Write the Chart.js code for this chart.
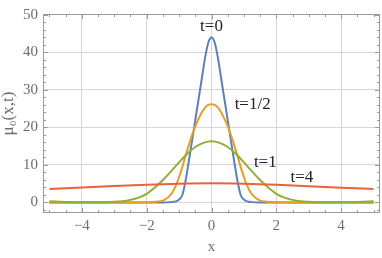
<!DOCTYPE html>
<html>
<head>
<meta charset="utf-8">
<script src="https://cdn.jsdelivr.net/npm/chart.js@4.4.0/dist/chart.umd.min.js"></script>
<style>
  html, body { margin: 0; padding: 0; background: #fff; }
  #wrap { width: 382px; height: 258px; }
</style>
</head>
<body>
<div id="wrap"><canvas id="mu-chart"></canvas></div>
<script>
// values

// t=0
var blueX = [-5, -4, -3, -2, -1.5, -1.25, -1.1, -1.0, -0.9, -0.8, -0.7, -0.6, -0.5, -0.4, -0.3, -0.2, -0.1, 0,
  0.1, 0.2, 0.3, 0.4, 0.5, 0.6, 0.7, 0.8, 0.9, 1.0, 1.1, 1.25, 1.5, 2, 3, 4, 5];
var blueY = [0, 0, 0, 0, 0, 0.1, 0.3, 0.8, 2.0, 5.8, 11, 16.5, 22, 27.5, 33, 38.5, 42.6, 44,
  42.6, 38.5, 33, 27.5, 22, 16.5, 11, 5.8, 2.0, 0.8, 0.3, 0.1, 0, 0, 0, 0, 0];

// t=1/2
var orangeX = [-5, -4, -3, -2.5, -2, -1.7, -1.5, -1.4, -1.3, -1.2, -1.1, -1.0, -0.9, -0.8, -0.7, -0.6, -0.5, -0.4, -0.3, -0.2, -0.1, 0,
  0.1, 0.2, 0.3, 0.4, 0.5, 0.6, 0.7, 0.8, 0.9, 1.0, 1.1, 1.2, 1.3, 1.4, 1.5, 1.7, 2, 2.5, 3, 4, 5];
var orangeY = [0, 0, 0, 0.02, 0.05, 0.2, 0.5, 1.0, 1.7, 2.8, 4.5, 6.8, 9.5, 12.5, 15.3, 18, 20.3, 22.3, 24, 25.3, 26, 26.2,
  26, 25.3, 24, 22.3, 20.3, 18, 15.3, 12.5, 9.5, 6.8, 4.5, 2.8, 1.7, 1.0, 0.5, 0.2, 0.05, 0.02, 0, 0, 0];

// t=1
var greenX = [-5, -4.5, -4, -3.5, -3, -2.75, -2.5, -2.25, -2, -1.75, -1.5, -1.25, -1, -0.75, -0.5, -0.25, 0,
  0.25, 0.5, 0.75, 1, 1.25, 1.5, 1.75, 2, 2.25, 2.5, 2.75, 3, 3.5, 4, 4.5, 5];
var greenY = [0.3, 0.15, 0.05, 0.05, 0.2, 0.35, 0.7, 1.3, 2.3, 4, 6, 8.3, 10.7, 13, 14.8, 15.9, 16.3,
  15.9, 14.8, 13, 10.7, 8.3, 6, 4, 2.3, 1.3, 0.7, 0.35, 0.2, 0.05, 0.05, 0.15, 0.3];

// t=4
var redX = [-5, -4, -3, -2, -1, 0, 1, 2, 3, 4, 5];
var redY = [3.6, 4.0, 4.4, 4.75, 5.0, 5.1, 5.0, 4.75, 4.35, 3.95, 3.6];

var xTicks = [-4, -2, 0, 2, 4];
var yTicks = [0, 10, 20, 30, 40, 50];

var curveLabels = [
  { text: "t=0", x: 0, y: 46.9 },
  { text: "t=1/2", x: 1.27, y: 26.0 },
  { text: "t=1", x: 1.66, y: 10.7 },
  { text: "t=4", x: 2.79, y: 6.6 }
];

function pts(xs, ys) {
  return xs.map(function(x, i) { return { x: x, y: ys[i] }; });
}

function fmt(v) {
  return v < 0 ? "\u2212" + Math.abs(v) : String(v);
}

var serif = "'Liberation Serif', 'DejaVu Serif', serif";
var axisGray = "#6e6e6e";

// Mathematica style frame: box all round with inward ticks
var frameTicks = {
  id: "frameTicks",
  beforeDatasetsDraw: function(chart) {
    var ctx = chart.ctx, a = chart.chartArea;
    var xs = chart.scales.x, ys = chart.scales.y;
    ctx.save();
    ctx.strokeStyle = "#9a9a9a";
    ctx.lineWidth = 1;
    ctx.strokeRect(a.left + 0.5, a.top + 0.5, a.right - a.left - 1, a.bottom - a.top - 1);
    ctx.beginPath();
    var v, p, len;
    for (v = -5; v <= 5; v += 0.5) {
      len = xTicks.indexOf(v) >= 0 ? 5 : 3;
      p = Math.round(xs.getPixelForValue(v)) + 0.5;
      ctx.moveTo(p, a.bottom); ctx.lineTo(p, a.bottom - len);
      ctx.moveTo(p, a.top); ctx.lineTo(p, a.top + len);
    }
    for (v = -2; v <= 50; v += 2) {
      len = yTicks.indexOf(v) >= 0 ? 5 : 3;
      p = Math.round(ys.getPixelForValue(v)) + 0.5;
      ctx.moveTo(a.left, p); ctx.lineTo(a.left + len, p);
      ctx.moveTo(a.right, p); ctx.lineTo(a.right - len, p);
    }
    ctx.stroke();
    ctx.restore();
  },
  afterDatasetsDraw: function(chart) {
    var ctx = chart.ctx;
    var xs = chart.scales.x, ys = chart.scales.y;
    ctx.save();
    ctx.fillStyle = "#222";
    ctx.font = "17px " + serif;
    ctx.textAlign = "center";
    ctx.textBaseline = "middle";
    curveLabels.forEach(function(l) {
      ctx.fillText(l.text, xs.getPixelForValue(l.x), ys.getPixelForValue(l.y));
    });
    ctx.restore();
  }
};

new Chart(document.getElementById("mu-chart"), {
  type: "line",
  data: {
    datasets: [
      { label: "t=4", data: pts(redX, redY), borderColor: "#eb6235", order: 0 },
      { label: "t=1", data: pts(greenX, greenY), borderColor: "#8fb032", order: 1 },
      { label: "t=1/2", data: pts(orangeX, orangeY), borderColor: "#e39f26", order: 2 },
      { label: "t=0", data: pts(blueX, blueY), borderColor: "#5e81b5", order: 3 }
    ]
  },
  options: {
    responsive: true,
    maintainAspectRatio: false,
    animation: false,
    layout: { padding: { top: 5, right: 2, bottom: 0, left: 0 } },
    elements: {
      point: { radius: 0 },
      line: { borderWidth: 2, fill: false, cubicInterpolationMode: "monotone" }
    },
    plugins: {
      legend: { display: false },
      tooltip: { enabled: false }
    },
    scales: {
      x: {
        type: "linear",
        min: -5.2,
        max: 5.2,
        afterBuildTicks: function(s) { s.ticks = xTicks.map(function(v) { return { value: v }; }); },
        afterFit: function(s) { s.height = 45; },
        grid: { color: "#d6d6d6", drawTicks: false },
        border: { display: false },
        ticks: {
          padding: 4,
          color: axisGray,
          font: { family: serif, size: 15 },
          callback: function(v) { return fmt(v); }
        },
        title: {
          display: true,
          text: "x",
          color: axisGray,
          font: { family: serif, size: 15, lineHeight: 1 },
          padding: { top: 0, bottom: 3 }
        }
      },
      y: {
        type: "linear",
        min: -2.8,
        max: 50.26,
        afterBuildTicks: function(s) { s.ticks = yTicks.map(function(v) { return { value: v }; }); },
        afterFit: function(s) { s.width = 43; },
        grid: { color: "#d6d6d6", drawTicks: false },
        border: { display: false },
        ticks: {
          padding: 5,
          color: axisGray,
          font: { family: serif, size: 15 },
          callback: function(v) { return fmt(v); }
        },
        title: {
          display: true,
          text: "\u03bc\u2080(x,t)",
          color: axisGray,
          font: { family: serif, size: 17, lineHeight: 1 },
          padding: { top: 0, bottom: 0 }
        }
      }
    }
  },
  plugins: [frameTicks]
});
</script>
</body>
</html>
